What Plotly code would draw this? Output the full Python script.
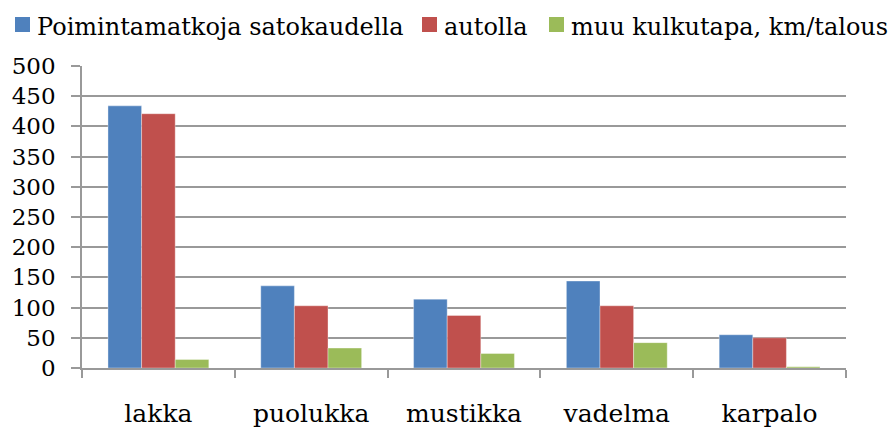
import plotly.graph_objects as go

categories = ["lakka", "puolukka", "mustikka", "vadelma", "karpalo"]
series_names = ["Poimintamatkoja satokaudella", "autolla", "muu kulkutapa, km/talous"]
poimintamatkoja = [434, 136, 114, 144, 55]
autolla = [421, 103, 87, 103, 50]
muu_kulkutapa = [14, 33, 24, 42, 2]
y_ticks = [0, 50, 100, 150, 200, 250, 300, 350, 400, 450, 500]

colors = ["#4F81BD", "#C0504D", "#9BBB59"]
FONT = "DejaVu Serif"

W, H = 893, 428
L, R, T, B = 82, 47, 66, 60
PW, PH = W - L - R, H - T - B

def px_x(x):
    return (x - L) / PW

def px_y(y):
    return (H - B - y) / PH

fig = go.Figure()
for name, vals, col in zip(series_names, [poimintamatkoja, autolla, muu_kulkutapa], colors):
    fig.add_trace(go.Bar(x=categories, y=vals, name=name,
                         marker=dict(color=col, line=dict(width=0.6, color="rgba(255,255,255,0.6)"))))

# manual legend
leg_sq = [15, 422, 549]
leg_tx = [35, 442, 569]
for name, col, sx, tx in zip(series_names, colors, leg_sq, leg_tx):
    fig.add_shape(type="rect", xref="paper", yref="paper",
                  x0=px_x(sx), x1=px_x(sx + 15), y0=px_y(32), y1=px_y(17),
                  fillcolor=col, line=dict(width=0))
    fig.add_annotation(text=name, xref="paper", yref="paper", x=px_x(tx), y=px_y(27),
                       xanchor="left", yanchor="middle", showarrow=False,
                       font=dict(family=FONT, size=24, color="#000"))

fig.update_layout(
    width=W, height=H,
    margin=dict(l=L, r=R, t=T, b=B, pad=0, autoexpand=False),
    paper_bgcolor="white", plot_bgcolor="white",
    barmode="group", bargap=0.34, bargroupgap=0,
    showlegend=False,
    font=dict(family=FONT, color="#000"),
)
fig.update_xaxes(
    automargin=False,
    showline=True, linecolor="#999", linewidth=1.5,
    ticks="outside", tickson="boundaries", ticklen=8, tickcolor="#999", tickwidth=1.5,
    tickfont=dict(family=FONT, size=25, color="#000"),
    ticklabelstandoff=22, showgrid=False,
)
fig.update_yaxes(
    automargin=False,
    range=[0, 500], tickvals=y_ticks, showgrid=True, gridcolor="#999", gridwidth=1.5,
    showline=True, linecolor="#999", linewidth=1.5,
    ticks="outside", ticklen=9, tickcolor="#999", tickwidth=1.5,
    tickfont=dict(family=FONT, size=23, color="#000"),
    ticklabelstandoff=11, zeroline=False,
)

fig.write_html("out.html", config={"displayModeBar": False},
               post_script="document.body.style.margin='0px';document.body.style.padding='0px';")
